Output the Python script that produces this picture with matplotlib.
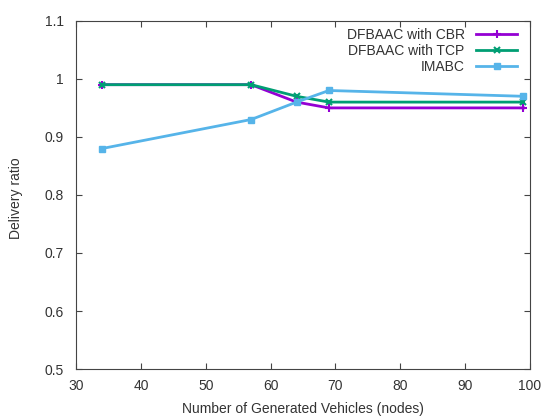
import numpy as np
import matplotlib.pyplot as plt

plt.rcParams['font.family'] = ['Liberation Sans', 'DejaVu Sans']

# number of generated vehicles
nodes = [34, 57, 64, 69, 99]

cbr = [0.99, 0.99, 0.96, 0.95, 0.95]
tcp = [0.99, 0.99, 0.97, 0.96, 0.96]
imabc = [0.88, 0.93, 0.96, 0.98, 0.97]

fig = plt.figure(figsize=(5.48, 4.17), dpi=100)
ax = fig.add_axes([0.139, 0.115, 0.828, 0.835])

ax.plot(nodes, cbr, color='#9400D3', lw=2, marker='+', ms=6, mew=1.5, label='DFBAAC with CBR')
ax.plot(nodes, tcp, color='#009E73', lw=2, marker='x', ms=5, mew=1.5, label='DFBAAC with TCP')
ax.plot(nodes, imabc, color='#56B4E9', lw=2, marker='s', ms=5, label='IMABC')

ax.set_xlim(30, 100)
ax.set_ylim(0.5, 1.1)
ax.set_xticks(np.arange(30, 101, 10))
ax.set_yticks([0.5, 0.6, 0.7, 0.8, 0.9, 1.0, 1.1])
ax.set_yticklabels(['0.5', '0.6', '0.7', '0.8', '0.9', '1', '1.1'])
ax.tick_params(direction='in', top=True, right=True, labelsize=10, length=4,
               colors='#444444', labelcolor='#333333')
ax.tick_params(axis='y', pad=9)
ax.tick_params(axis='x', pad=7)
for s in ax.spines.values():
    s.set_color('#444444')

ax.set_xlabel('Number of Generated Vehicles (nodes)', fontsize=10, color='#333333')
ax.set_ylabel('Delivery ratio', fontsize=10, color='#333333')
ax.xaxis.set_label_coords(0.5, -0.095)
ax.yaxis.set_label_coords(-0.118, 0.49)

ax.legend(loc='upper right', bbox_to_anchor=(1.0, 1.015), frameon=False,
          markerfirst=False, fontsize=10, handlelength=3, borderaxespad=0.5,
          labelspacing=0.15, handletextpad=0.8, labelcolor='#333333')

fig.savefig('out.png')
